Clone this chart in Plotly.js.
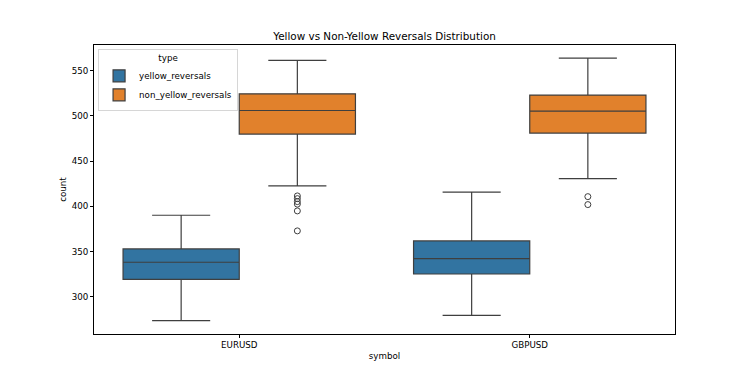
<!DOCTYPE html>
<html>
<head>
<meta charset="utf-8">
<script src="https://cdn.plot.ly/plotly-3.0.1.min.js"></script>
<style>html,body{margin:0;padding:0;background:#fff;}#chart{width:750px;height:375px;}</style>
</head>
<body>
<div id="chart"></div>
<script>
const symbols = ["EURUSD", "GBPUSD"];

// yellow_reversals stats per symbol
const yellowLower = [273.4, 279.4];
const yellowQ1 = [319.2, 325.1];
const yellowMedian = [338.1, 342.1];
const yellowQ3 = [352.8, 361.7];
const yellowUpper = [390.1, 415.6];
const yellowOutliers = [[], []];

// non_yellow_reversals stats per symbol
const nonYellowLower = [422.6, 430.7];
const nonYellowQ1 = [479.9, 481.0];
const nonYellowMedian = [506.0, 505.4];
const nonYellowQ3 = [524.5, 523.1];
const nonYellowUpper = [561.4, 564.0];
const nonYellowOutliers = [[411.5, 408.5, 405.2, 402.4, 394.9, 372.8], [410.7, 401.9]];

const yTicks = [300, 350, 400, 450, 500, 550];

const lineCol = "#3f3f3f";
const font = "DejaVu Sans, sans-serif";
const fs = 8.7;

function boxTrace(name, color, lf, q1, med, q3, uf, outl) {
  const t = {
    type: "box",
    name: name,
    x: symbols,
    q1: q1, median: med, q3: q3, lowerfence: lf, upperfence: uf,
    boxpoints: "outliers",
    jitter: 0, pointpos: 0,
    fillcolor: color,
    line: {color: lineCol, width: 1.2},
    whiskerwidth: 0.5,
    marker: {symbol: "circle-open", size: 6, color: lineCol, line: {color: lineCol, width: 1}},
    hoverinfo: "skip"
  };
  if (outl.some(a => a.length > 0)) t.y = outl;
  return t;
}

const data = [
  boxTrace("yellow_reversals", "#3274a1", yellowLower, yellowQ1, yellowMedian, yellowQ3, yellowUpper, yellowOutliers),
  boxTrace("non_yellow_reversals", "#e1812c", nonYellowLower, nonYellowQ1, nonYellowMedian, nonYellowQ3, nonYellowUpper, nonYellowOutliers)
];

const layout = {
  width: 750, height: 375,
  margin: {l: 94, r: 75, t: 45, b: 41},
  paper_bgcolor: "#fff", plot_bgcolor: "#fff",
  font: {family: font, size: fs, color: "#000"},
  title: {text: "Yellow vs Non-Yellow Reversals Distribution", font: {family: font, size: 10.4, color: "#000"}, x: 0.5127, xanchor: "center", y: 0.904, yanchor: "middle"},
  boxmode: "group", boxgap: 0.2, boxgroupgap: 0,
  showlegend: true,
  legend: {
    x: 0.007, y: 0.986, xanchor: "left", yanchor: "top",
    bgcolor: "rgba(255,255,255,0.8)", bordercolor: "#d6d6d6", borderwidth: 1,
    title: {text: "type", side: "top center", font: {family: font, size: fs}},
    font: {family: font, size: fs},
    tracegroupgap: 0, itemwidth: 30
  },
  xaxis: {
    type: "category", range: [-0.5, 1.5],
    title: {text: "symbol", font: {family: font, size: fs}, standoff: 3},
    showline: true, mirror: true, linecolor: "#000", linewidth: 1,
    ticks: "outside", ticklen: 3, tickcolor: "#000", showgrid: false, zeroline: false,
    tickfont: {family: font, size: fs}
  },
  yaxis: {
    range: [258.7, 578.5],
    tickvals: yTicks,
    title: {text: "count", font: {family: font, size: fs}, standoff: 3},
    showline: true, mirror: true, linecolor: "#000", linewidth: 1,
    ticks: "outside", ticklen: 3, tickcolor: "#000", showgrid: false, zeroline: false,
    tickfont: {family: font, size: fs}
  }
};

Plotly.newPlot("chart", data, layout, {displayModeBar: false, staticPlot: true});
</script>
</body>
</html>
